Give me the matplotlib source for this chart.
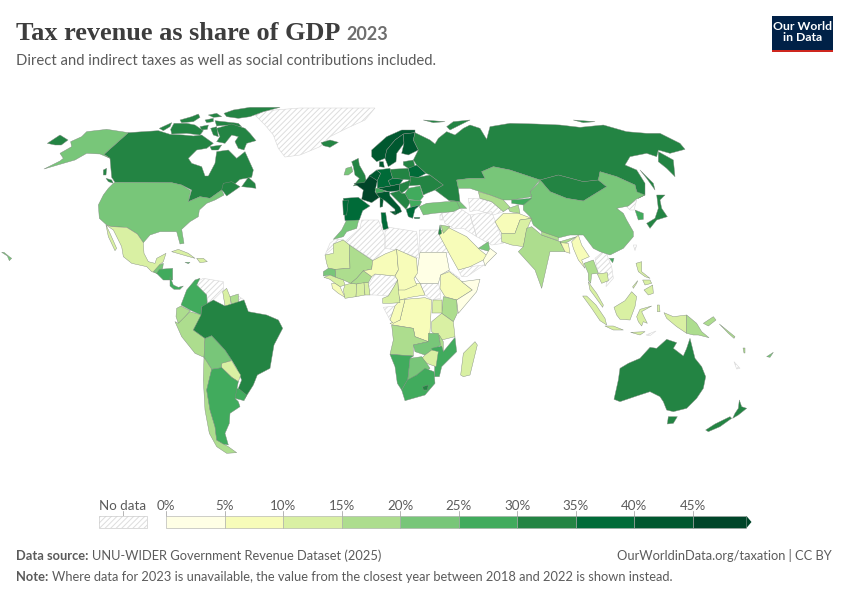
import matplotlib
matplotlib.use("Agg")
import matplotlib.pyplot as plt
from matplotlib.colors import BoundaryNorm, ListedColormap
from matplotlib.patches import Polygon, Rectangle

plt.rcParams['font.family'] = ['Lato', 'DejaVu Sans']
plt.rcParams['hatch.linewidth'] = 0.7

TITLE = "Tax revenue as share of GDP"
YEAR = "2023"
SUBTITLE = "Direct and indirect taxes as well as social contributions included."
SOURCE = "UNU-WIDER Government Revenue Dataset (2025)"
NOTE = "Where data for 2023 is unavailable, the value from the closest year between 2018 and 2022 is shown instead."
CREDIT = "OurWorldinData.org/taxation | CC BY"

BIN_EDGES = [0, 5, 10, 15, 20, 25, 30, 35, 40, 45, 50]
BIN_COLORS = ['#ffffe5', '#f7fcb9', '#d9f0a3', '#addd8e', '#78c679',
              '#41ab5d', '#238443', '#006b38', '#00582f', '#004529']

# share of GDP, read from the map colours; None means no data
TAX_SHARE = {
    'Canada': 32, 'Arctic Islands': 32, 'USA': 22, 'Mexico': 13, 'Greenland': None, 'Cuba': 12, 'Haiti': 12,
    'Jamaica': 27, 'Guatemala': 22, 'Honduras': 27, 'Panama': 27,
    'Colombia': 27, 'Venezuela': None, 'Guyana': 12, 'Suriname': 17, 'French Guiana': None,
    'Ecuador': 17, 'Peru': 17, 'Bolivia': 22, 'Brazil': 32, 'Paraguay': 12, 'Uruguay': 28,
    'Argentina': 27, 'Chile': 17,
    'Iceland': 32, 'Ireland': 22, 'UK': 33, 'Norway': 42, 'Sweden': 42, 'Finland': 43, 'Denmark': 44,
    'Spain': 37, 'Portugal': 36, 'France': 46, 'Benelux': 41, 'Germany': 39, 'Poland': 34,
    'Czechia': 35, 'Austria': 43, 'Switzerland': 27, 'Italy': 42, 'Sicily': 42, 'Sardinia': 42,
    'Hungary': 34, 'Romania': 27, 'Balkans': 33, 'Bulgaria': 28, 'Greece': 38, 'Crete': 38,
    'Turkey': 22, 'Belarus': 35, 'Baltics': 33, 'Ukraine': 32, 'Caucasus': 24,
    'Morocco': 23, 'Tunisia': 36, 'Israel': 30, 'Jordan': 17, 'Syria Iraq': None, 'Lebanon': None,
    'Russia': 32, 'Mongolia': 32, 'Kazakhstan': 22, 'China': 22, 'Japan': 33, 'South Korea': 27,
    'North Korea': None, 'Taiwan': None, 'Hainan': 27, 'Uzbekistan': 17, 'Turkmenistan': None,
    'Kyrgyzstan': 27, 'Tajikistan': 17, 'Afghanistan': 8, 'Iran': None, 'Pakistan': 12,
    'India': 17, 'Nepal': 17, 'Bangladesh': 8, 'Myanmar': 7, 'Thailand': 16, 'Laos Vietnam': None,
    'Cambodia': 12, 'Saudi Arabia': 8, 'UAE': 22, 'Oman': 4, 'Yemen': None,
    'Western Sahara': None, 'Mauritania': 13, 'Mali': 17, 'Algeria': None, 'Libya': None, 'Egypt': None,
    'Niger': 8, 'Chad': 8, 'Sudan': 3, 'South Sudan': None, 'Eritrea': None, 'Ethiopia': 7,
    'Somalia': 3, 'Kenya': 17, 'Uganda': 12, 'Tanzania': 13, 'DR Congo': 8, 'CAR': 8,
    'Cameroon': 13, 'Nigeria': None, 'Gabon': None, 'Congo': 8, 'Senegal': 22, 'Guinea': 13,
    'Burkina Faso': 18, 'Ivory Coast': 13, 'Ghana': 13, 'Togo Benin': 13, 'Liberia': 8,
    'Angola': 17, 'Zambia': 21, 'Malawi': 17, 'Mozambique': 27, 'Zimbabwe': 13, 'Botswana': 22,
    'Namibia': 28, 'South Africa': 27, 'Lesotho': 33, 'Madagascar': 12,
    'Sumatra': 12, 'Malay Peninsula': 14, 'Borneo': 12, 'Java': 12, 'Sulawesi': 12,
    'West Papua': 12, 'PNG': 17, 'Sunda': 12, 'Timor': None, 'Luzon': 13, 'Visayas': 13, 'Mindanao': 13,
    'Palawan': 13, 'Halmahera': 12,
    'Bismarck': 17, 'Solomons': 17, 'Fiji': 22, 'Vanuatu': 17, 'New Caledonia': None,
    'Australia': 32, 'Tasmania': 32, 'NZ North': 32, 'NZ South': 32,
}

# outlines, in the 3x units of each crop
NORTH_AMERICA = {
    'Greenland': [[(765, 75), (800, 62), (900, 54), (1125, 54), (1095, 90), (1040, 115), (990, 140), (960, 170), (900, 195), (855, 201), (835, 175), (820, 135), (795, 105)]],
    'Canada': [
        [(385, 128), (430, 125), (475, 122), (510, 133), (550, 135), (580, 138), (605, 135), (640, 160), (620, 175), (590, 180), (565, 205), (575, 220), (605, 230), (615, 258), (625, 258), (645, 220), (650, 185), (685, 180), (710, 205), (735, 185), (760, 240), (755, 262), (720, 268), (690, 295), (665, 300), (630, 325), (600, 320), (565, 335), (575, 300), (545, 285), (515, 278), (345, 277), (335, 262), (330, 205), (312, 193)],
        [(665, 300), (670, 280), (695, 275), (720, 290), (680, 318), (670, 305)],
        [(725, 290), (745, 262), (765, 280), (768, 295), (745, 292)],
        [(310, 240), (320, 235), (318, 255), (310, 255)],
        [(318, 265), (335, 270), (340, 280), (325, 275)],
    ],
    'USA': [
        [(345, 277), (515, 278), (545, 285), (572, 302), (565, 335), (600, 320), (630, 325), (665, 300), (672, 315), (645, 330), (620, 340), (598, 360), (595, 380), (570, 395), (545, 418), (552, 460), (540, 462), (530, 425), (480, 425), (450, 435), (430, 458), (412, 432), (380, 412), (335, 410), (320, 405), (298, 385), (295, 345), (310, 315), (325, 295), (335, 285)],
        [(132, 237), (180, 213), (190, 205), (180, 190), (215, 170), (212, 155), (245, 140), (260, 125), (320, 118), (385, 128), (312, 193), (330, 205), (300, 192), (260, 190), (225, 210), (190, 220)],
        [(5, 487), (12, 487), (28, 500), (35, 505), (28, 512), (22, 498)],
    ],
    'Mexico': [[(318, 405), (335, 410), (380, 412), (412, 432), (430, 458), (432, 490), (445, 515), (465, 520), (470, 505), (498, 490), (490, 515), (478, 525), (472, 550), (455, 545), (440, 530), (395, 520), (370, 500), (365, 470), (340, 420)],
               [(318, 405), (330, 430), (350, 475), (345, 482), (325, 440)]],
    'Cuba': [[(515, 485), (535, 478), (565, 490), (585, 505), (560, 498)]],
    'Haiti': [[(590, 505), (610, 505), (622, 515), (600, 518)]],
    'Jamaica': [[(555, 517), (570, 517), (565, 521)]],
    'Guatemala': [[(460, 545), (478, 525), (490, 520), (488, 535), (472, 552)]],
    'Honduras': [[(478, 538), (518, 535), (518, 570), (490, 570), (470, 550)]],
}

ARCTIC = {
    'Arctic Islands': [
        [(28, 85), (65, 68), (60, 80), (40, 92)],
        [(62, 88), (72, 70), (110, 70), (135, 75), (160, 92), (150, 105), (110, 100), (65, 102)],
        [(90, 60), (125, 50), (145, 42), (150, 52), (130, 65), (95, 68)],
        [(165, 60), (190, 55), (190, 65), (170, 68)],
        [(175, 45), (200, 40), (215, 50), (190, 52)],
        [(150, 80), (175, 75), (172, 88), (155, 90)],
        [(195, 62), (265, 70), (275, 80), (235, 75), (200, 78)],
        [(222, 40), (250, 30), (300, 22), (390, 22), (340, 35), (300, 50), (265, 55), (230, 50)],
        [(182, 85), (200, 80), (205, 110), (190, 105)],
        [(200, 85), (245, 72), (285, 85), (300, 100), (318, 122), (290, 130), (282, 150), (265, 145), (255, 125), (265, 110), (245, 105), (225, 130), (200, 125), (210, 110)],
        [(180, 140), (215, 135), (205, 150), (185, 150)],
    ],
}

SOUTH_AMERICA = {
    'Panama': [[(0, 20), (10, 45), (25, 52), (40, 48), (30, 58), (12, 58), (0, 48)]],
    'Venezuela': [[(80, 35), (100, 25), (160, 35), (160, 60), (130, 90), (135, 110), (115, 105), (110, 75), (85, 50)]],
    'French Guiana': [[(205, 78), (222, 90), (212, 102), (205, 98)]],
    'Colombia': [[(75, 30), (90, 25), (80, 45), (110, 75), (112, 105), (95, 110), (93, 135), (60, 120), (33, 105), (50, 60)]],
    'Guyana': [[(158, 65), (170, 55), (182, 85), (180, 105), (165, 108)]],
    'Suriname': [[(180, 80), (205, 72), (205, 100), (185, 105)]],
    'Ecuador': [[(20, 115), (33, 108), (60, 122), (40, 148), (25, 160), (18, 140)]],
    'Peru': [[(15, 155), (25, 160), (60, 125), (95, 135), (70, 180), (105, 205), (102, 262), (75, 250), (35, 200)]],
    'Bolivia': [[(105, 205), (125, 197), (165, 240), (185, 270), (155, 285), (155, 293), (125, 298), (102, 262)]],
    'Brazil': [[(95, 110), (130, 90), (165, 108), (222, 90), (235, 125), (290, 135), (325, 150), (338, 175), (312, 225), (300, 295), (262, 315), (250, 345), (225, 385), (205, 355), (215, 330), (200, 295), (185, 270), (165, 240), (125, 197), (105, 205), (70, 180), (93, 135)]],
    'Paraguay': [[(155, 280), (185, 272), (200, 297), (212, 315), (205, 335), (185, 322), (155, 293)]],
    'Uruguay': [[(205, 355), (230, 375), (222, 392), (195, 385), (195, 358)]],
    'Chile': [[(102, 262), (125, 298), (110, 360), (120, 420), (135, 470), (140, 510), (175, 530), (200, 548), (170, 550), (140, 530), (118, 490), (105, 420), (100, 330)]],
    'Argentina': [[(125, 298), (155, 293), (185, 322), (205, 335), (195, 385), (205, 395), (210, 410), (180, 430), (178, 460), (165, 490), (175, 525), (160, 522), (140, 510), (135, 470), (120, 420), (110, 360)]],
}

NORTH_EUROPE = {
    'Iceland': [[(3, 68), (30, 60), (55, 67), (30, 82), (10, 77)]],
    'Ireland': [[(72, 165), (78, 145), (95, 140), (98, 155), (85, 165)]],
    'UK': [[(95, 125), (115, 115), (118, 135), (135, 165), (140, 190), (100, 198), (118, 175), (105, 165), (100, 140)]],
    'Norway': [[(155, 90), (200, 50), (245, 30), (285, 30), (285, 38), (250, 42), (225, 60), (200, 90), (195, 115), (170, 125), (155, 110)]],
    'Sweden': [[(200, 90), (225, 60), (250, 42), (252, 70), (230, 100), (228, 125), (205, 140), (195, 115)]],
    'Finland': [[(250, 42), (285, 38), (280, 60), (295, 90), (265, 105), (245, 100), (252, 70)]],
    'Denmark': [[(178, 125), (190, 125), (193, 142), (178, 140)]],
    'Baltics': [[(250, 125), (280, 120), (285, 140), (265, 145), (250, 135)]],
    'Belarus': [[(265, 145), (290, 135), (318, 160), (295, 172), (270, 170)]],
    'Ukraine': [[(270, 170), (295, 172), (330, 165), (370, 195), (345, 210), (320, 220), (310, 225), (300, 195), (262, 198)]],
    'Caucasus': [[(385, 240), (420, 245), (440, 265), (420, 265)]],
    'Turkey': [[(298, 260), (320, 250), (380, 245), (410, 245), (420, 265), (400, 275), (340, 280), (310, 285)]],
    'Morocco': [[(80, 300), (118, 292), (110, 325), (80, 335), (70, 350), (40, 358), (65, 330)]],
    'Tunisia': [[(183, 278), (197, 278), (200, 300), (205, 325), (190, 330), (185, 305)]],
    'Sicily': [[(210, 275), (235, 272), (225, 285)]],
    'Sardinia': [[(180, 232), (190, 235), (188, 260), (180, 262)]],
    'Crete': [[(282, 292), (300, 292), (298, 296), (284, 296)]],
}

CENTRAL_EUROPE = {
    'Spain': [[(10, 115), (55, 112), (90, 138), (68, 152), (58, 180), (15, 182)]],
    'Portugal': [[(8, 122), (25, 120), (20, 165), (10, 165)]],
    'France': [[(42, 70), (72, 68), (90, 45), (112, 62), (108, 80), (105, 95), (118, 112), (95, 128), (65, 118), (70, 90)]],
    'Benelux': [[(88, 47), (110, 30), (122, 40), (112, 62)]],
    'Germany': [[(110, 30), (150, 25), (158, 55), (145, 62), (152, 78), (112, 85), (112, 62), (122, 40)]],
    'Poland': [[(150, 28), (205, 25), (212, 60), (190, 58), (158, 55)]],
    'Czechia': [[(145, 62), (158, 55), (190, 58), (180, 72), (152, 78)]],
    'Austria': [[(112, 85), (152, 78), (180, 72), (178, 92), (148, 95), (135, 92)]],
    'Switzerland': [[(105, 85), (112, 85), (135, 92), (135, 95), (108, 100)]],
    'Italy': [[(108, 100), (135, 95), (148, 95), (150, 108), (180, 142), (185, 155), (165, 165), (165, 148), (135, 122), (118, 112)]],
    'Hungary': [[(180, 72), (212, 60), (205, 85), (185, 100), (178, 92)]],
    'Romania': [[(205, 85), (240, 78), (250, 110), (240, 122), (205, 118), (195, 100)]],
    'Balkans': [[(150, 100), (178, 92), (185, 100), (195, 100), (205, 118), (212, 125), (198, 148), (165, 115)]],
    'Bulgaria': [[(208, 120), (240, 122), (245, 125), (240, 135), (212, 142)]],
    'Greece': [[(198, 148), (212, 142), (240, 135), (225, 148), (218, 175), (205, 170)]],
}

ASIA = {
    'Russia': [
        [(-165, 38), (-120, 60), (-105, 72), (-95, 55), (-70, 35), (-45, 45), (-20, 25), (0, 15), (30, 25), (50, 58), (60, 20), (120, 10), (200, 12), (270, 15), (330, 22), (400, 15), (470, 35), (530, 40), (570, 40), (630, 70), (645, 88), (600, 100), (565, 90), (560, 110), (530, 100), (480, 110), (465, 135), (500, 150), (525, 190), (525, 225), (505, 235), (495, 195), (440, 170), (390, 155), (385, 180), (340, 185), (265, 165), (210, 180), (120, 150), (70, 140), (35, 155), (45, 175), (0, 175), (-40, 180), (-35, 205), (-30, 245), (-65, 240), (-105, 210), (-80, 195), (-120, 165), (-132, 160), (-160, 135), (-170, 120), (-155, 90), (-170, 60)],
        [(565, 95), (610, 120), (615, 170), (590, 145), (565, 125)],
        [(510, 150), (550, 190), (555, 210), (530, 175)],
        [(-70, 20), (-50, 5), (0, 0), (-40, 20), (-60, 30)],
        [(-140, 0), (-75, 5), (-110, 8)],
        [(310, 0), (375, 5), (340, 8)],
        [(-1268, 70), (-1230, 45), (-1206, 60), (-1226, 75), (-1245, 75)],
    ],
    'Mongolia': [[(210, 180), (265, 165), (340, 185), (385, 180), (410, 200), (340, 243), (290, 235), (240, 215)]],
    'China': [[(160, 255), (185, 230), (180, 215), (205, 190), (210, 180), (240, 215), (290, 235), (340, 243), (410, 200), (385, 180), (390, 155), (440, 170), (495, 195), (500, 215), (525, 225), (498, 238), (475, 258), (440, 265), (460, 280), (470, 300), (490, 335), (490, 350), (460, 385), (420, 405), (390, 395), (370, 385), (340, 345), (300, 345), (260, 355), (215, 335), (190, 315), (180, 290), (160, 270)]],
    'Kazakhstan': [[(-40, 180), (0, 175), (45, 175), (35, 155), (70, 140), (120, 150), (210, 180), (180, 215), (185, 230), (125, 240), (100, 240), (60, 225), (30, 215), (0, 205), (-35, 205)]],
    'Turkmenistan': [[(-5, 235), (25, 235), (65, 245), (100, 275), (70, 285), (20, 270), (0, 275)]],
    'Uzbekistan': [[(25, 215), (60, 225), (100, 240), (120, 262), (100, 275), (65, 245), (30, 235)]],
    'Kyrgyzstan': [[(125, 240), (185, 235), (160, 255), (125, 250)]],
    'Tajikistan': [[(115, 265), (145, 255), (150, 280), (120, 275)]],
    'Iran': [[(0, 285), (65, 275), (90, 340), (100, 370), (65, 375), (20, 350)]],
    'Syria Iraq': [[(-85, 280), (-30, 265), (0, 285), (20, 350), (-20, 325), (-50, 325), (-75, 310)]],
    'Lebanon': [[(-90, 285), (-85, 280), (-82, 300), (-90, 300)]],
    'Afghanistan': [[(75, 305), (100, 280), (145, 280), (185, 295), (150, 300), (135, 340), (95, 340)]],
    'Pakistan': [[(95, 340), (135, 340), (150, 300), (185, 295), (170, 330), (160, 380), (125, 375), (95, 365)]],
    'India': [[(170, 325), (185, 320), (215, 345), (270, 365), (320, 350), (295, 365), (275, 375), (270, 365), (285, 395), (240, 395), (215, 505), (195, 450), (145, 395), (160, 380)]],
    'Nepal': [[(215, 335), (265, 352), (265, 362), (215, 345)]],
    'Bangladesh': [[(272, 368), (295, 370), (300, 400), (285, 395)]],
    'Myanmar': [[(305, 365), (325, 345), (335, 375), (358, 410), (335, 420), (345, 445), (325, 420), (310, 385)]],
    'Japan': [[(560, 225), (585, 225), (570, 240), (575, 265), (592, 290), (560, 300), (540, 325), (530, 310), (555, 295), (565, 265)]],
    'North Korea': [[(470, 260), (500, 240), (492, 270), (480, 270)]],
    'South Korea': [[(495, 270), (520, 280), (520, 298), (505, 300)]],
    'Taiwan': [[(490, 375), (500, 375), (495, 392)]],
    'Hainan': [[(418, 415), (432, 415), (428, 428)]],
}

AFRICA = {
    'Western Sahara': [[(45, 105), (60, 70), (75, 58), (100, 58)]],
    'Algeria': [[(105, 65), (150, 25), (155, 0), (205, 0), (225, 50), (225, 85), (195, 120), (188, 120)]],
    'Libya': [[(225, 20), (320, 35), (328, 115), (260, 90), (225, 85)]],
    'Egypt': [[(328, 30), (395, 30), (420, 97), (330, 97)]],
    'South Sudan': [[(330, 190), (385, 190), (390, 210), (392, 235), (365, 240), (345, 225)]],
    'Gabon': [[(220, 262), (255, 258), (240, 300)]],
    'Eritrea': [[(415, 150), (450, 175), (440, 180), (418, 158)]],
    'Yemen': [[(445, 150), (480, 140), (522, 135), (470, 170), (455, 170)]],
    'Sudan': [[(330, 97), (408, 97), (418, 150), (392, 165), (385, 190), (330, 190), (312, 165), (322, 150)]],
    'Ethiopia': [[(392, 165), (418, 155), (450, 180), (487, 210), (440, 240), (405, 230), (390, 205)]],
    'Somalia': [[(455, 185), (510, 178), (500, 215), (445, 280), (442, 260), (440, 240), (487, 210)]],
    'Kenya': [[(400, 230), (440, 240), (442, 280), (430, 305), (395, 280)]],
    'Uganda': [[(368, 240), (395, 240), (395, 280), (365, 280)]],
    'Tanzania': [[(365, 305), (395, 280), (430, 305), (435, 350), (395, 360), (365, 335)]],
    'DR Congo': [[(285, 238), (345, 233), (365, 240), (360, 335), (355, 365), (315, 350), (310, 325), (250, 315), (240, 310), (270, 300)]],
    'CAR': [[(262, 215), (280, 190), (330, 190), (345, 225), (300, 232), (270, 240)]],
    'Congo': [[(270, 240), (285, 238), (270, 300), (250, 310), (240, 300), (255, 258)]],
    'Angola': [[(245, 315), (310, 325), (315, 350), (355, 365), (310, 375), (310, 408), (240, 403), (250, 360)]],
    'Zambia': [[(355, 340), (385, 340), (392, 375), (345, 405), (315, 395), (310, 375), (355, 365)]],
    'Malawi': [[(388, 345), (400, 365), (400, 395), (392, 385)]],
    'Mozambique': [[(365, 385), (395, 378), (400, 395), (435, 352), (440, 395), (395, 440), (388, 470), (373, 470), (375, 420)]],
    'Zimbabwe': [[(345, 405), (365, 390), (385, 395), (378, 440), (350, 430), (335, 415)]],
    'Botswana': [[(300, 415), (335, 410), (350, 430), (360, 445), (345, 455), (320, 465), (300, 480), (293, 480)]],
    'Namibia': [[(240, 403), (310, 408), (300, 415), (293, 480), (275, 510), (262, 490), (255, 440)]],
    'South Africa': [[(292, 480), (320, 465), (345, 445), (372, 455), (375, 490), (345, 525), (285, 542), (275, 510)]],
    'Lesotho': [[(338, 500), (355, 495), (352, 510), (340, 510)]],
    'Madagascar': [[(452, 465), (460, 400), (495, 365), (502, 375), (480, 465), (460, 470)]],
    'Saudi Arabia': [[(385, 40), (410, 20), (470, 50), (510, 90), (535, 110), (520, 120), (480, 140), (445, 150), (420, 105)]],
    'UAE': [[(505, 85), (535, 65), (540, 95)]],
    'Oman': [[(520, 120), (540, 85), (560, 100), (530, 130), (525, 138)]],
    'Israel': [[(385, 40), (390, 15), (395, 40), (388, 45)]],
    'Jordan': [[(392, 15), (420, 20), (400, 40)]],
}

WEST_AFRICA = {
    'Nigeria': [[(145, 135), (165, 102), (225, 108), (233, 120), (222, 140), (205, 168), (165, 165), (150, 165)]],
    'Mauritania': [[(15, 45), (40, 40), (40, 12), (70, 0), (88, 15), (90, 85), (45, 88), (25, 85), (20, 70)]],
    'Mali': [[(88, 15), (158, 62), (155, 88), (130, 92), (110, 115), (92, 130), (70, 120), (47, 112), (45, 88), (90, 85)]],
    'Senegal': [[(10, 95), (25, 85), (45, 88), (47, 112), (30, 105), (10, 108)]],
    'Guinea': [[(12, 112), (30, 105), (47, 112), (70, 120), (75, 135), (60, 140), (45, 130), (30, 118)]],
    'Liberia': [[(35, 130), (45, 130), (60, 140), (75, 172), (55, 160), (37, 145)]],
    'Ivory Coast': [[(75, 135), (92, 130), (110, 132), (108, 170), (75, 175), (70, 150)]],
    'Burkina Faso': [[(92, 130), (110, 115), (130, 92), (155, 110), (145, 128), (110, 132)]],
    'Ghana': [[(110, 132), (132, 128), (135, 165), (108, 170)]],
    'Togo Benin': [[(132, 128), (145, 128), (150, 165), (135, 165)]],
    'Niger': [[(158, 62), (195, 42), (230, 28), (235, 90), (225, 108), (165, 102), (155, 110), (130, 92), (155, 88)]],
    'Chad': [[(230, 28), (290, 55), (292, 100), (282, 115), (290, 135), (255, 150), (235, 150), (233, 120), (225, 108), (235, 90)]],
    'Cameroon': [[(188, 175), (205, 168), (222, 140), (233, 120), (235, 150), (240, 188), (210, 190), (188, 190)]],
}

SE_ASIA = {
    'Laos Vietnam': [[(75, 25), (105, 0), (125, 50), (130, 85), (108, 110), (112, 70), (85, 70)]],
    'Thailand': [[(42, 40), (70, 30), (85, 70), (65, 72), (62, 100), (55, 90), (55, 70)]],
    'Cambodia': [[(82, 72), (112, 68), (115, 92), (95, 100)]],
    'Sumatra': [[(38, 138), (50, 138), (78, 165), (105, 205), (110, 225), (90, 212), (65, 175)]],
    'Malay Peninsula': [[(55, 95), (65, 110), (80, 130), (100, 165), (98, 172), (75, 140), (60, 120)]],
    'Borneo': [[(132, 172), (165, 152), (185, 125), (200, 140), (195, 170), (180, 210), (150, 208), (140, 195)]],
    'Java': [[(105, 228), (130, 228), (160, 240), (130, 240)]],
    'Sulawesi': [[(200, 200), (210, 178), (245, 168), (215, 185), (222, 200), (232, 220), (220, 215), (215, 228), (205, 215)]],
    'Luzon': [[(198, 40), (215, 35), (215, 65), (240, 85), (225, 80), (205, 65)]],
    'Visayas': [[(218, 90), (240, 90), (245, 100), (225, 105)]],
    'Mindanao': [[(222, 120), (248, 105), (250, 130), (235, 135)]],
    'Palawan': [[(188, 110), (203, 92), (200, 100), (190, 115)]],
    'Halmahera': [[(262, 165), (268, 165), (270, 185), (262, 185)]],
}

OCEANIA = {
    'West Papua': [[(312, 128), (340, 140), (380, 135), (380, 190), (350, 170), (320, 145)]],
    'PNG': [[(380, 135), (410, 160), (425, 185), (447, 203), (415, 195), (400, 195), (380, 190)]],
    'Sunda': [[(212, 187), (255, 185), (240, 195)]],
    'Timor': [[(258, 195), (288, 183), (270, 197)]],
    'Bismarck': [[(430, 160), (460, 140), (468, 150), (445, 168)]],
    'Solomons': [[(478, 162), (525, 200), (522, 205), (505, 190)]],
    'Fiji': [[(620, 260), (640, 247), (630, 262)]],
    'Vanuatu': [[(550, 235), (555, 235), (555, 250), (551, 250)]],
    'New Caledonia': [[(522, 275), (540, 295), (530, 297)]],
    'Australia': [[(162, 388), (165, 375), (175, 330), (180, 295), (205, 280), (240, 265), (270, 232), (290, 235), (320, 208), (350, 218), (340, 235), (370, 258), (380, 235), (390, 205), (405, 265), (425, 290), (437, 320), (430, 355), (410, 385), (380, 415), (340, 425), (320, 420), (310, 395), (300, 380), (270, 365), (230, 378), (180, 395)]],
    'Tasmania': [[(325, 440), (352, 440), (340, 460), (322, 462)]],
    'NZ North': [[(538, 390), (545, 410), (560, 415), (535, 435), (518, 445), (525, 430), (535, 415)]],
    'NZ South': [[(437, 480), (465, 462), (510, 440), (515, 445), (480, 470), (445, 485)]],
}

# crop origin in pixels of each group of outlines
REGIONS = [
    (NORTH_AMERICA, 0, 90),
    (ARCTIC, 150, 100),
    (SOUTH_AMERICA, 170, 270),
    (NORTH_EUROPE, 320, 120),
    (CENTRAL_EUROPE, 340, 160),
    (ASIA, 470, 120),
    (AFRICA, 310, 220),
    (WEST_AFRICA, 320, 240),
    (SE_ASIA, 570, 250),
    (OCEANIA, 560, 270),
]

cmap = ListedColormap(BIN_COLORS)
norm = BoundaryNorm(BIN_EDGES, cmap.N)


def add_no_data(ax, pts):
    ax.add_patch(Polygon(pts, closed=True, facecolor='white', edgecolor='#dddddd', hatch='//////', linewidth=0, zorder=1))
    ax.add_patch(Polygon(pts, closed=True, fill=False, edgecolor='#d8d8d8', linewidth=0.4, zorder=1.1))


def draw_map(ax):
    for outlines, x0, y0 in REGIONS:
        for name, rings in outlines.items():
            value = TAX_SHARE[name]
            for ring in rings:
                pts = [(x0 + x / 3, y0 + y / 3) for x, y in ring]
                if value is None:
                    add_no_data(ax, pts)
                else:
                    ax.add_patch(Polygon(pts, closed=True, facecolor=cmap(norm(value)), edgecolor='#808a80', linewidth=0.3, joinstyle='round', zorder=2))


def draw_legend(ax):
    left, step, top, height = 166, 58.55, 516, 12
    to_x = lambda v: left + (v - BIN_EDGES[0]) / 5 * step
    arrow_start = to_x(BIN_EDGES[-1]) - 5
    for lo, hi, color in zip(BIN_EDGES[:-1], BIN_EDGES[1:], BIN_COLORS):
        right = min(to_x(hi), arrow_start)
        ax.add_patch(Rectangle((to_x(lo), top), right - to_x(lo), height, facecolor=color, edgecolor='#a8a8a8', linewidth=0.4, zorder=3))
        ax.plot([to_x(lo)] * 2, [top - 5, top], color='#999999', linewidth=0.5)
        ax.text(to_x(lo), top - 4.5, f'{lo}%', ha='center', va='bottom', fontsize=9.6, color='#5b5b5b')
    ax.add_patch(Polygon([(arrow_start, top), (arrow_start + 5, top + height / 2), (arrow_start, top + height)], closed=True, facecolor=BIN_COLORS[-1], edgecolor='none', zorder=3))

    ax.add_patch(Rectangle((99, top), 48, height, facecolor='white', edgecolor='#dddddd', hatch='//////', linewidth=0, zorder=3))
    ax.add_patch(Rectangle((99, top), 48, height, fill=False, edgecolor='#cccccc', linewidth=0.5, zorder=3))
    ax.plot([123, 123], [top - 5, top], color='#999999', linewidth=0.5)
    ax.text(123, top - 4.5, 'No data', ha='center', va='bottom', fontsize=9.6, color='#5b5b5b')


def run_text(fig, ax, x, y, parts, gap):
    # lays out pieces with different fonts one after the other
    renderer = fig.canvas.get_renderer()
    for s, kw in parts:
        t = ax.text(x, y, s, va='baseline', ha='left', **kw)
        x = t.get_window_extent(renderer).x1 + gap


def main():
    fig = plt.figure(figsize=(8.5, 6), dpi=100)
    ax = fig.add_axes([0, 0, 1, 1])
    ax.set_xlim(0, 850)
    ax.set_ylim(600, 0)
    ax.axis('off')

    draw_map(ax)
    draw_legend(ax)

    run_text(fig, ax, 16, 40, [
        (TITLE, dict(fontsize=18.9, fontweight='bold', color='#3d3d3d', family=['Liberation Serif'])),
        (YEAR, dict(fontsize=13, fontweight='bold', color='#6e6e6e')),
    ], 6)
    ax.text(16, 65, SUBTITLE, fontsize=10.7, color='#5b5b5b', va='baseline')

    ax.add_patch(Rectangle((772, 16), 61, 36, facecolor='#002147', edgecolor='none'))
    ax.add_patch(Rectangle((772, 49.5), 61, 2.5, facecolor='#ce261e', edgecolor='none'))
    ax.text(802.5, 32, 'Our World\nin Data', color='white', fontsize=8.8, fontweight='bold', ha='center', va='center', linespacing=1.0)

    run_text(fig, ax, 16, 560, [
        ('Data source:', dict(fontsize=9.25, fontweight='bold', color='#5b5b5b')),
        (SOURCE, dict(fontsize=9.25, color='#5b5b5b')),
    ], 3.5)
    run_text(fig, ax, 16, 581, [
        ('Note:', dict(fontsize=9.25, fontweight='bold', color='#5b5b5b')),
        (NOTE, dict(fontsize=9.25, color='#5b5b5b')),
    ], 3.5)
    ax.text(832, 560, CREDIT, fontsize=9.25, color='#5b5b5b', ha='right', va='baseline')

    fig.savefig('out.png', dpi=100)


if __name__ == "__main__":
    main()
